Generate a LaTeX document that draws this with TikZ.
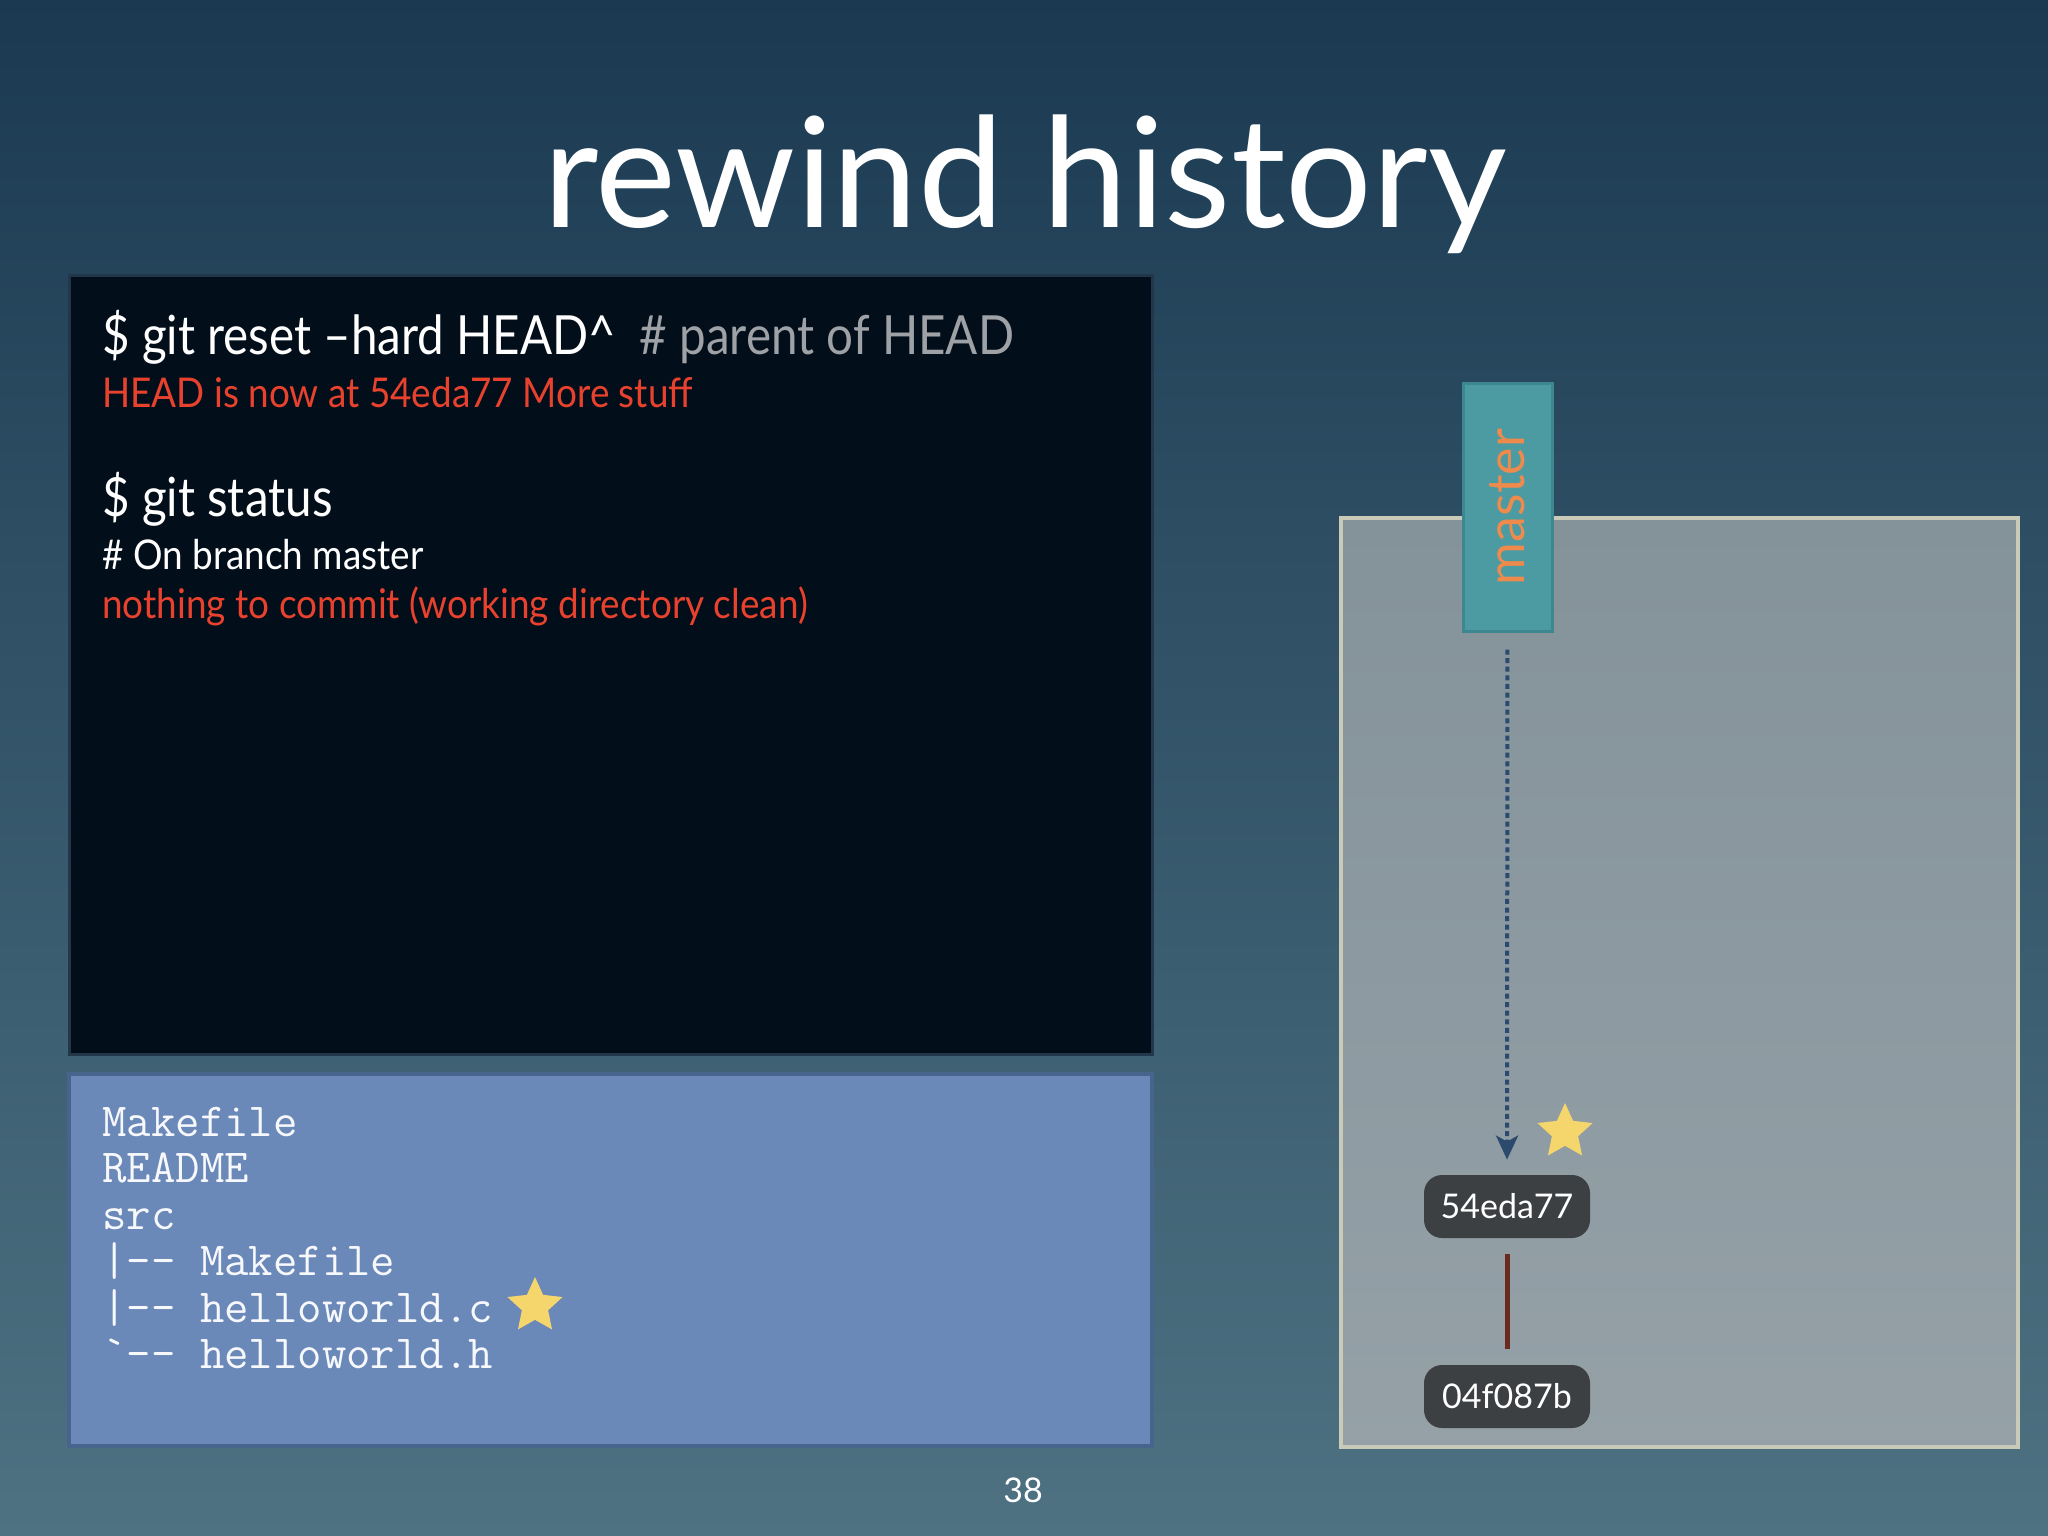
\documentclass[tikz,border=0pt]{standalone}
\usepackage{fontspec}
\setmainfont{Lato}
\setmonofont{Latin Modern Mono}
\newfontfamily\termfont[FakeStretch=0.88]{Lato}
\newfontfamily\replyfont[FakeStretch=0.90]{Lato}
\usetikzlibrary{shapes.geometric,positioning,arrows.meta}

\definecolor{bgtop}{HTML}{1B3A52}
\definecolor{bgbot}{HTML}{4E7282}
\definecolor{termbg}{HTML}{020E19}
\definecolor{termedge}{HTML}{22384A}
\definecolor{termred}{HTML}{E8422F}
\definecolor{commentgray}{HTML}{9EA2A6}
\definecolor{treeblue}{HTML}{6A88B8}
\definecolor{treeedge}{HTML}{46648C}
\definecolor{graphtop}{HTML}{84929A}
\definecolor{graphbot}{HTML}{95A1A7}
\definecolor{graphedge}{HTML}{C9CBB8}
\definecolor{branchteal}{HTML}{4C9AA2}
\definecolor{branchedge}{HTML}{3D8790}
\definecolor{branchtext}{HTML}{EE8B4C}
\definecolor{commitgray}{HTML}{3D4043}
\definecolor{pointerblue}{HTML}{2B4A6E}
\definecolor{parentred}{HTML}{6B2A1E}
\definecolor{staryellow}{HTML}{F4D66C}

\tikzset{
  cmd/.style={anchor=base west, inner sep=0pt, text=white, font=\termfont\fontsize{27}{32}\selectfont},
  reply/.style={anchor=base west, inner sep=0pt, font=\replyfont\fontsize{20.5}{24}\selectfont},
  file/.style={anchor=base west, inner sep=0pt, text=white!94!treeblue, font=\ttfamily\fontsize{23.7}{27}\selectfont},
  commit/.style={fill=commitgray, rounded corners=9pt, text=white, minimum width=83pt, minimum height=31.5pt, inner sep=0pt, font=\fontsize{17}{20}\selectfont},
  starmark/.style={star, star points=5, star point ratio=2.1, fill=staryellow, inner sep=0pt, minimum size=29pt},
  pointer/.style={pointerblue, line width=2pt, dash pattern=on 2.5pt off 1.8pt, -{Stealth[length=12pt,width=11pt,inset=3pt]}, shorten <=8.5pt, shorten >=7.5pt},
  parent/.style={parentred, line width=2.5pt, shorten <=8pt, shorten >=8pt}
}

\begin{document}
\begin{tikzpicture}[x=0.5pt, y=-0.5pt]
  \shade[top color=bgtop, bottom color=bgbot] (0,0) rectangle (2048,1535);
  \useasboundingbox (0,0) rectangle (2048,1535);

  \node[anchor=base, text=white, font=\fontsize{76.5}{90}\selectfont, inner sep=0pt] (title) at (1025,228) {rewind history};

  \node[fill=termbg, draw=termedge, line width=1.5pt, minimum width=541.5pt, minimum height=389pt] (terminal) at (610.5,665) {};
  \node[cmd] (reset) at (102,355) {\$ git reset –hard HEAD\textasciicircum\hspace{12pt}\textcolor{commentgray}{\# parent of HEAD}};
  \node[reply, text=termred] (headmsg) at (102,407) {HEAD is now at 54eda77 More stuff};
  \node[cmd] (status) at (102,516) {\$ git status};
  \node[reply, text=white] (branchmsg) at (102,569) {\# On branch master};
  \node[reply, text=termred] (cleanmsg) at (102,618) {nothing to commit (working directory clean)};

  \node[fill=treeblue, draw=treeedge, line width=2pt, minimum width=541.5pt, minimum height=186pt] (tree) at (610.5,1260) {};
  \node[file] (file1) at (102,1136) {Makefile};
  \node[file] (file2) at (102,1182) {README};
  \node[file] (file3) at (102,1229) {src};
  \node[file] (file4) at (102,1275) {|-- Makefile};
  \node[file] (file5) at (102,1322) {|-- helloworld.c};
  \node[file] (file6) at (102,1368) {`-- helloworld.h};
  \node[starmark] (changed) at (535,1306) {};

  \node[top color=graphtop, bottom color=graphbot, draw=graphedge, line width=2pt, minimum width=338.5pt, minimum height=464.5pt] (graph) at (1679.5,982.5) {};
  \node[fill=branchteal, draw=branchedge, line width=1.5pt, rotate=90, minimum width=124pt, minimum height=44.5pt, inner sep=0pt, text=branchtext, font=\fontsize{26}{30}\selectfont] (master) at (1507.5,507) {master};
  \node[commit] (c54) at (1507,1206.5) {54eda77};
  \node[commit] (c04) at (1507,1396.5) {04f087b};
  \node[starmark] (head) at (1565,1132) {};
  \draw[pointer] (master) -- (c54);
  \draw[parent] (c54) -- (c04);

  \node[text=white, font=\fontsize{17}{20}\selectfont, inner sep=0pt] (page) at (1023,1490) {38};
\end{tikzpicture}
\end{document}
